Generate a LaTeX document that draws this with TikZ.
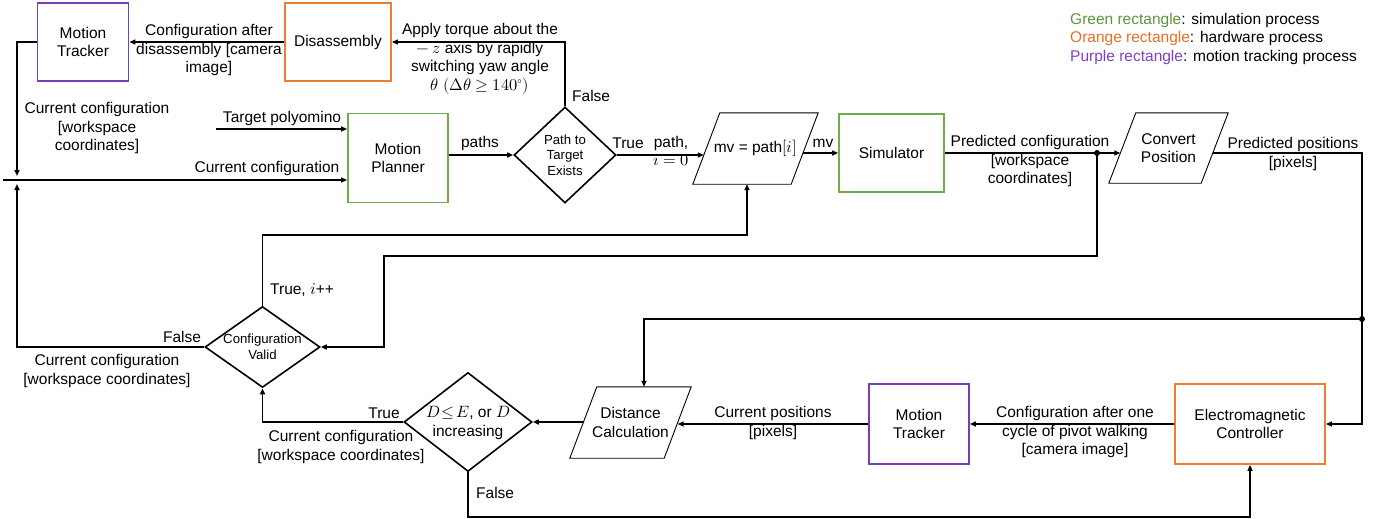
\documentclass[tikz,border=0pt]{standalone}
\usepackage{fontspec}
\usepackage{unicode-math}
\setmainfont{Liberation Sans}
\setmathfont{Latin Modern Math}[Scale=1.06]
\usetikzlibrary{shapes.geometric,arrows.meta,calc}
\definecolor{bgreen}{RGB}{112,173,71}
\definecolor{borange}{RGB}{237,125,49}
\definecolor{bpurple}{RGB}{120,60,180}
\definecolor{tgreen}{RGB}{92,150,60}
\definecolor{torange}{RGB}{228,112,40}
\definecolor{tpurple}{RGB}{128,64,192}
\tikzset{
  base/.style={font=\fontsize{15.5}{18.5}\selectfont, align=center},
  small/.style={font=\fontsize{13.2}{15.6}\selectfont, align=center, inner sep=0pt},
  lbl/.style={base, inner sep=0pt},
  box/.style={base, draw, line width=1.8pt, inner sep=0pt},
  ptext/.style={base, inner sep=0pt},
  pline/.style={line width=0.9pt, line join=miter},
  dia/.style={diamond, draw, line width=1.6pt, inner sep=0pt},
  arr/.style={line width=1.6pt, -{Triangle[length=6pt,width=5pt]}},
  dotmark/.style={circle, fill=black, inner sep=0pt, minimum size=6pt}
}
\begin{document}
\begin{tikzpicture}[x=1pt,y=-1pt]
\useasboundingbox (0,0) rectangle (1379,519);

% ---- nodes ----
\node[box, draw=bpurple, minimum width=91pt, minimum height=78pt] (mt1) at (83,42) {Motion\\Tracker};
\node[box, draw=borange, minimum width=106pt, minimum height=78pt] (dis) at (338,42) {Disassembly};
\node[box, draw=bgreen, minimum width=100pt, minimum height=89pt] (mp) at (398,158) {Motion\\Planner};
\node[dia, minimum width=102pt, minimum height=96pt] (d1) at (565,155) {};
\node[small] (d1t) at (d1) {Path to\\Target\\Exists};
\node[ptext, minimum width=98pt, minimum height=71pt] (pg1) at (755.5,148.5) {mv = path$[i]$};
\node[box, draw=bgreen, minimum width=105pt, minimum height=78pt] (sim) at (891.5,153) {Simulator};
\node[ptext, minimum width=92pt, minimum height=70pt] (cp) at (1168.5,148) {Convert\\Position};
\node[box, draw=borange, minimum width=150pt, minimum height=80pt] (ec) at (1250,424) {Electromagnetic\\Controller};
\node[box, draw=bpurple, minimum width=100pt, minimum height=80pt] (mt2) at (919,424) {Motion\\Tracker};
\node[ptext, minimum width=94pt, minimum height=71pt] (dc) at (630.5,422.5) {Distance\\Calculation};
\node[dia, minimum width=128pt, minimum height=99pt] (d2) at (468,422) {};
\node[base, inner sep=0pt] (d2t) at (468,423) {$D\!\leq\! E$, or $D$\\increasing};
\node[dia, minimum width=115pt, minimum height=81pt] (cv) at (262.5,347) {};
\node[small] (cvt) at (cv) {Configuration\\Valid};

% ---- parallelogram outlines ----
\foreach \p in {pg1,cp,dc}{
  \draw[pline] ($(\p.south west)+(-13.5,0)$) -- ($(\p.north west)+(13.5,0)$)
     -- ($(\p.north east)+(13.5,0)$) -- ($(\p.south east)+(-13.5,0)$) -- cycle;
}

% ---- coordinates ----
\coordinate (jt) at (17,176);
\coordinate (jb) at (17,184);
\coordinate (l0) at (3,180);
\coordinate (tp) at (216,129);
\coordinate (dot1) at (1097,153);
\coordinate (rc) at (1362,153);
\coordinate (dot2) at (1362,319);
\coordinate (c1) at (384,256);
\coordinate (c2) at (747,235);
\coordinate (c3) at (1250,517);
\coordinate (dctop) at ($(dc.north)+(13.5,0)$);

% ---- connectors ----
\draw[arr] (dis.west) -- (mt1.east);
\draw[arr] (d1.north) |- (dis.east);
\draw[arr] (mt1.west) -| (jt);
\draw[arr] (l0) -- (l0 -| mp.west);
\draw[arr] (tp) -- (tp -| mp.west);
\draw[arr] (mp.east |- d1.west) -- (d1.west);
\draw[arr] (d1.east) -- ($(d1.east -| pg1.west)+(-2.5,0)$);
\draw[arr] ($(pg1.east |- sim.west)+(-1.5,0)$) -- (sim.west);
\draw[arr] (sim.east) -- ($(sim.east -| cp.west)+(-2,0)$);
\draw[arr] ($(cp.east |- rc)+(-2,0)$) -- (rc) |- (ec.east);
\draw[arr] (dot2) -| (dctop);
\draw[arr] (dot1) |- (c1) |- (cv.east);
\draw[arr] (cv.north) |- (c2) -- (c2 |- pg1.south);
\draw[arr] (cv.west) -| (jb);
\draw[arr] (d2.west) -| (cv.south);
\draw[arr] (dc.west |- d2.east) -- (d2.east);
\draw[arr] (mt2.west) -- (mt2.west -| dc.east);
\draw[arr] (ec.west) -- (mt2.east);
\draw[arr] (d2.south) |- (c3) -- (ec.south);
\node[dotmark] (dm1) at (dot1) {};
\node[dotmark] (dm2) at (dot2) {};

% ---- labels ----
\node[lbl] (t1) at (209,50) {Configuration after\\disassembly {[}camera\\image{]}};
\node[lbl] (t2) at (480,59) {Apply torque about the\\$-\,z$ axis by rapidly\\switching yaw angle\\$\theta\ (\Delta\theta \geq 140^\circ)$};
\node[lbl, anchor=west] (t3) at (572,96) {False};
\node[lbl] (t4) at (97,128) {Current configuration\\{[}workspace\\coordinates{]}};
\node[lbl] (t5) at (282,118) {Target polyomino};
\node[lbl] (t6) at (267,168) {Current configuration};
\node[lbl] (t7) at (480,143) {paths};
\node[lbl] (t8) at (628,143) {True};
\node[lbl] (t9) at (671,151) {path,\\$i = 0$};
\node[lbl] (t10) at (823,143) {mv};
\node[lbl] (t11) at (1030,161) {Predicted configuration\\{[}workspace\\coordinates{]}};
\node[lbl] (t12) at (1293,154) {Predicted positions\\{[}pixels{]}};
\node[lbl, anchor=west] (t13) at (270,290) {True, $i$++};
\node[lbl] (t14) at (182,337) {False};
\node[lbl] (t15) at (107,371) {Current configuration\\{[}workspace coordinates{]}};
\node[lbl] (t16) at (384,413) {True};
\node[lbl] (t17) at (341,447) {Current configuration\\{[}workspace coordinates{]}};
\node[lbl, anchor=west] (t18) at (476,493) {False};
\node[lbl] (t19) at (773,423) {Current positions\\{[}pixels{]}};
\node[lbl] (t20) at (1075,432) {Configuration after one\\cycle of pivot walking\\{[}camera image{]}};
\node[lbl, anchor=west] (lg1) at (1070,20) {\textcolor{tgreen}{Green rectangle}: simulation process};
\node[lbl, anchor=west] (lg2) at (1070,38) {\textcolor{torange}{Orange rectangle}: hardware process};
\node[lbl, anchor=west] (lg3) at (1070,57) {\textcolor{tpurple}{Purple rectangle}: motion tracking process};
\end{tikzpicture}
\end{document}
